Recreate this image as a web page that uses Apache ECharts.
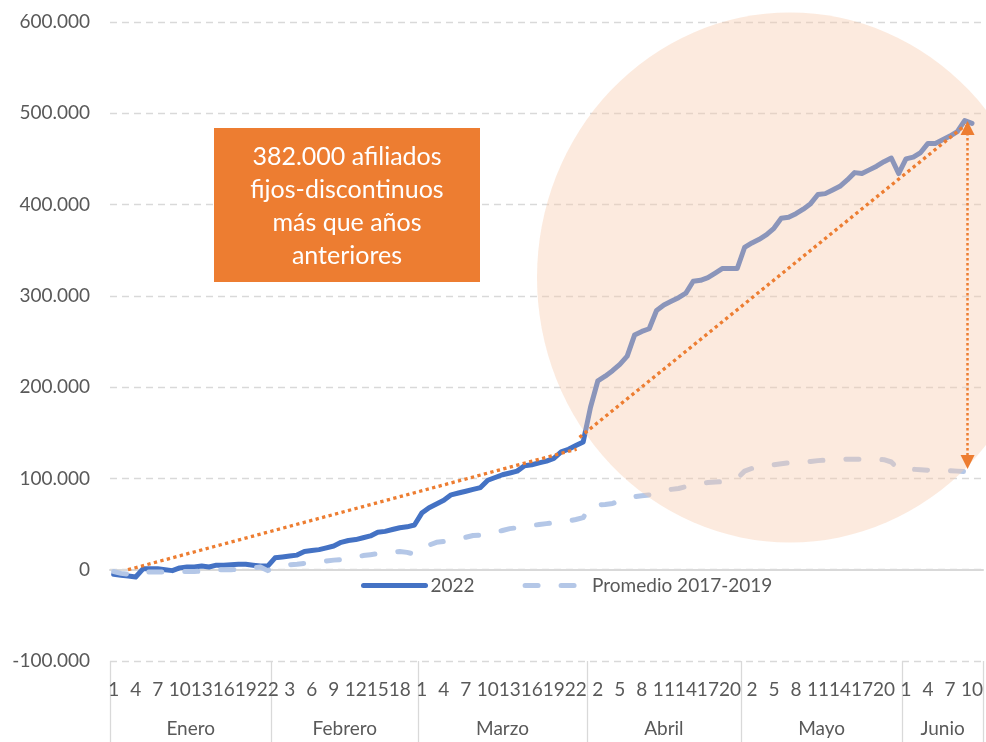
<!DOCTYPE html>
<html>
<head>
<meta charset="utf-8">
<script src="https://cdn.jsdelivr.net/npm/echarts@6/dist/echarts.min.js"></script>
<style>
    html, body { margin: 0; padding: 0; background: #fff; }
    #chart { width: 986px; height: 742px; }
</style>
</head>
<body>
<div id="chart"></div>
<script type="text/javascript">
    // meses y numero de dias laborables de cada uno
    var monthNames = ['Enero', 'Febrero', 'Marzo', 'Abril', 'Mayo', 'Junio'];
    var monthDays = [22, 20, 23, 21, 22, 11];

    // afiliados fijos-discontinuos, variacion acumulada (miles)
    var serie2022 = [
        -5, -6, -7, -8, 1, 1, 1, 0, -1, 2, 3, 3, 4, 3, 5, 5, 5.5, 6, 6, 5, 4, 4,
        13, 14, 15, 16, 20, 21, 22, 24, 26, 30, 32, 33, 35, 37, 41, 42, 44, 46, 47, 49,
        62, 68, 72, 76, 82, 84, 86, 88, 90, 98, 101, 104, 106, 108, 114, 115, 117, 119, 122, 129, 132, 136, 140,
        178, 207, 212, 218, 225, 234, 257, 261, 264, 284, 290, 294, 298, 303, 316, 317, 320, 325, 330, 330, 330,
        353, 358, 362, 367, 374, 385, 386, 390, 395, 401, 411, 412, 416, 420, 427, 435, 434, 438, 442, 447, 451, 434,
        450, 452, 457, 467, 467, 471, 475, 480, 492, 489
    ];
    var seriePromedio = [
        -2, -4, -5, -6, -3, -2.5, -2.5, -2.5, -2.5, -2, -2, -2, -1.5, -1, 0, 0, 0, 0.5, 1, 2, 3, -1,
        3, 4, 5.5, 6, 7, 7.5, 8.5, 9.5, 10.5, 11, 12, 13.5, 15.5, 16.5, 17.5, 18, 19, 20, 19, 17,
        23, 27, 30, 31, 32, 33.5, 35.5, 37.5, 38, 38.5, 41, 43, 45, 46, 47, 48.5, 49.5, 50.5, 51.5, 52, 53.5, 55, 57,
        70, 71, 71.5, 72.5, 76, 78.5, 80, 81, 82, 85, 86.5, 88, 89, 91, 93, 94.5, 95.5, 96, 96.5, 97.5, 100,
        108, 111, 113, 114.5, 115, 116, 117, 117.5, 118, 118.5, 119.5, 120, 120.5, 120.5, 121, 121, 121, 121, 121, 120.5, 118, 110,
        110, 110, 109.5, 109, 109, 108.5, 108.5, 108, 107.5, 107, 106
    ];

    var textColor = '#595959';
    var fontFamily = 'Lato, "Open Sans", sans-serif';
    var naranja = '#ED7D31';

    // categorias del eje: dia dentro de cada mes
    var days = [];
    var monthOfCat = [];
    var monthStart = [];
    var monthMid = {};
    for (var m = 0; m < monthNames.length; m++) {
        monthStart.push(days.length);
        var n = monthDays[m];
        monthMid[days.length + Math.ceil(n / 2) - 1] = (n % 2 === 0);
        for (var d = 1; d <= n; d++) {
            days.push(String(d));
            monthOfCat.push(monthNames[m]);
        }
    }

    var myChart = echarts.init(document.getElementById('chart'), null, {renderer: 'canvas'});

    var option = {
        animation: false,
        backgroundColor: '#ffffff',
        textStyle: {fontFamily: fontFamily},
        grid: {left: 110, right: 0, top: 22, bottom: 81, containLabel: false},
        legend: {
            data: ['2022', 'Promedio 2017-2019'],
            left: 356,
            top: 571,
            itemWidth: 62,
            itemHeight: 12,
            itemGap: 48,
            itemStyle: {opacity: 0},
            lineStyle: {width: 5, cap: 'round'},
            textStyle: {color: textColor, fontSize: 19, fontFamily: fontFamily}
        },
        xAxis: [
            {
                // dias
                type: 'category',
                data: days,
                position: 'bottom',
                axisLine: {show: false, onZero: false},
                axisTick: {
                    show: true,
                    length: 81,
                    interval: function (index) {
                        return monthStart.indexOf(index) >= 0;
                    },
                    lineStyle: {color: '#D9D9D9', width: 1.3}
                },
                axisLabel: {interval: 2, margin: 19, color: textColor, fontSize: 19, fontFamily: fontFamily},
                splitLine: {show: false}
            },
            {
                // meses
                type: 'category',
                data: monthOfCat,
                position: 'bottom',
                axisLine: {show: false, onZero: false},
                axisTick: {show: false},
                axisLabel: {
                    interval: function (index) {
                        return monthMid.hasOwnProperty(index);
                    },
                    formatter: function (value, index) {
                        return monthMid[index] ? '{p|' + value + '}' : '{q|' + value + '}';
                    },
                    rich: {
                        p: {padding: [0, 0, 0, 7.4], color: textColor, fontSize: 19, fontFamily: fontFamily},
                        q: {color: textColor, fontSize: 19, fontFamily: fontFamily}
                    },
                    margin: 58,
                    color: textColor,
                    fontSize: 19
                },
                splitLine: {show: false}
            },
            {
                // linea del cero
                type: 'category',
                data: days,
                position: 'bottom',
                axisLine: {show: true, onZero: true, lineStyle: {color: '#D9D9D9', width: 2}},
                axisTick: {show: false},
                axisLabel: {show: false},
                splitLine: {show: false}
            },
            {
                // eje auxiliar para las anotaciones
                type: 'value',
                min: 0,
                max: days.length,
                show: false
            }
        ],
        yAxis: {
            type: 'value',
            min: -100,
            max: 600,
            interval: 100,
            axisLine: {show: false},
            axisTick: {show: false},
            splitLine: {lineStyle: {color: '#D9D9D9', type: [7, 5], width: 1.3}},
            axisLabel: {
                margin: 20,
                color: textColor,
                fontSize: 19,
                fontFamily: fontFamily,
                formatter: function (v) {
                    return v === 0 ? '0' : v + '.000';
                }
            }
        },
        series: [
            {
                name: '2022',
                type: 'line',
                data: serie2022,
                xAxisIndex: 0,
                symbol: 'none',
                z: 2,
                lineStyle: {color: '#4472C4', width: 5, cap: 'round', join: 'round'},
                itemStyle: {color: '#4472C4'}
            },
            {
                name: 'Promedio 2017-2019',
                type: 'line',
                data: seriePromedio,
                xAxisIndex: 0,
                symbol: 'none',
                z: 2,
                lineStyle: {color: '#B4C7E7', width: 5, type: [13, 23], cap: 'round', join: 'round'},
                itemStyle: {color: '#B4C7E7'}
            },
            {
                name: 'anotaciones',
                type: 'line',
                xAxisIndex: 3,
                data: [],
                z: 10,
                markLine: {
                    silent: true,
                    animation: false,
                    label: {show: false},
                    lineStyle: {color: naranja, width: 3.3, type: [3.3, 3.4], cap: 'butt'},
                    symbol: ['none', 'none'],
                    data: [
                        [{coord: [2.45, 0]}, {coord: [63.6, 132]}],
                        [{coord: [64.0, 145]}, {coord: [116.6, 487]}],
                        [
                            {coord: [116.9, 484], symbol: 'triangle', symbolSize: [14, 14]},
                            {coord: [116.9, 118], symbol: 'triangle', symbolSize: [14, 14],
                                lineStyle: {width: 2.5, type: [2.5, 2.5]}}
                        ]
                    ]
                }
            }
        ],
        graphic: [
            {
                type: 'circle',
                x: 790,
                y: 277.5,
                scaleY: 265 / 253,
                shape: {cx: 0, cy: 0, r: 253},
                style: {fill: 'rgba(248, 203, 173, 0.4)'},
                silent: true,
                z: 5
            },
            {
                type: 'rect',
                shape: {x: 214, y: 128, width: 266, height: 154},
                style: {fill: naranja},
                z: 20
            },
            {
                type: 'text',
                x: 347,
                y: 206,
                style: {
                    text: '382.000 afiliados\nfijos-discontinuos\nmás que años\nanteriores',
                    fill: '#ffffff',
                    font: '25px Lato, "Open Sans", sans-serif',
                    lineHeight: 33,
                    align: 'center',
                    verticalAlign: 'middle'
                },
                z: 21
            }
        ]
    };

    myChart.setOption(option);
</script>
</body>
</html>
